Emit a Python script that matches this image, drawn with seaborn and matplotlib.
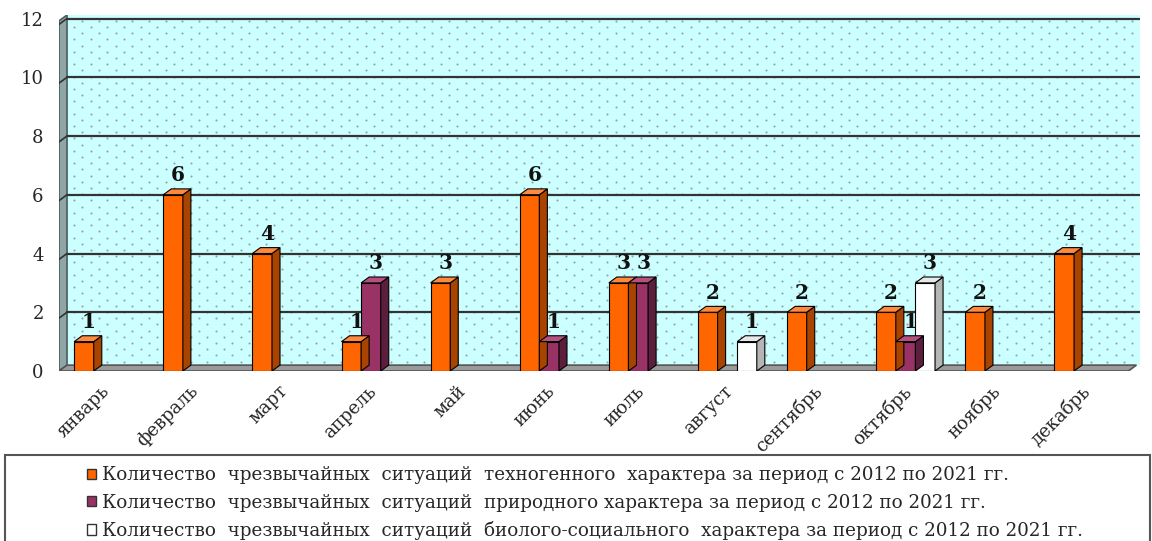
import numpy as np
import pandas as pd
import matplotlib.pyplot as plt
import seaborn as sns
from matplotlib.patches import Polygon, Rectangle, Patch

# ---------- data ----------
months = ['январь', 'февраль', 'март', 'апрель', 'май', 'июнь',
          'июль', 'август', 'сентябрь', 'октябрь', 'ноябрь', 'декабрь']
tech = [1, 6, 4, 1, 3, 6, 3, 2, 2, 2, 2, 4]
nature = [0, 0, 0, 3, 0, 1, 3, 0, 0, 1, 0, 0]
bio = [0, 0, 0, 0, 0, 0, 0, 1, 0, 3, 0, 0]
series = ['Количество  чрезвычайных  ситуаций  техногенного  характера за период с 2012 по 2021 гг.',
          'Количество  чрезвычайных  ситуаций  природного характера за период с 2012 по 2021 гг.',
          'Количество  чрезвычайных  ситуаций  биолого-социального  характера за период с 2012 по 2021 гг.']
yticks = [0, 2, 4, 6, 8, 10, 12]

colors = ['#FF6600', '#993366', '#FFFFFF']
side_colors = ['#A84300', '#5C1E3D', '#B5B5B5']
top_colors = ['#FF8A3D', '#B5507F', '#E8E8E8']

rows = []
for name, vals in zip(series, [tech, nature, bio]):
    for m, v in zip(months, vals):
        if v > 0:
            rows.append({'month': m, 'value': v, 'series': name})
df = pd.DataFrame(rows)

sns.set_style('white')
plt.rcParams['font.family'] = ['DejaVu Serif']

fig = plt.figure(figsize=(11.52, 5.41), dpi=100)
ax = fig.add_axes([59 / 1152, 170 / 541, 1081 / 1152, 356 / 541])

dx, dy = 0.09, 0.2
x_left, x_right, y_top = -0.5, 11.63, 12.12

# walls and floor (3D look)
ax.add_patch(Rectangle((x_left + dx, dy), x_right - x_left - dx, y_top - dy,
                       facecolor='#CCFFFF', lw=0, zorder=0))
# dotted wall pattern
gx = np.arange(x_left + dx + 0.08, x_right, 0.187)
gy = np.arange(dy + 0.12, y_top, 0.211)
px, py = [], []
for k, yy in enumerate(gy):
    off = 0.0935 if k % 2 else 0.0
    xs = gx + off
    xs = xs[xs < x_right - 0.02]
    px.extend(xs)
    py.extend([yy] * len(xs))
ax.scatter(px, py, s=2.2, color='#8fa3a3', linewidths=0, zorder=0.2)

ax.add_patch(Polygon([(x_left, 0), (x_left + dx, dy), (x_left + dx, y_top), (x_left, y_top - dy)],
                     closed=True, facecolor='#8FA6A6', edgecolor='#4d5c5c', lw=1.2, zorder=0.5))
ax.add_patch(Polygon([(x_left, 0), (11.5, 0), (11.5 + dx, dy), (x_left + dx, dy)],
                     closed=True, facecolor='#9a9a9a', edgecolor='#555555', lw=1.2, zorder=0.5))
for t in yticks[1:]:
    ax.plot([x_left + dx, x_right], [t, t], color='#333333', lw=1.6, zorder=1)
    ax.plot([x_left, x_left + dx], [t - dy, t], color='#333333', lw=1.2, zorder=1)

sns.barplot(data=df, x='month', y='value', hue='series', order=months, hue_order=series,
            palette=colors, saturation=1, width=0.66, edgecolor='black', linewidth=0.8,
            legend=False, ax=ax)

# side and top faces + value labels
for i, cont in enumerate(ax.containers):
    for bar in cont:
        h = bar.get_height()
        if not np.isfinite(h) or h <= 0:
            continue
        bar.set_zorder(3)
        x0 = bar.get_x()
        x1 = x0 + bar.get_width()
        ax.add_patch(Polygon([(x1, 0), (x1 + dx, dy), (x1 + dx, h + dy), (x1, h)], closed=True,
                             facecolor=side_colors[i], edgecolor='black', lw=0.8, zorder=3))
        ax.add_patch(Polygon([(x0, h), (x1, h), (x1 + dx, h + dy), (x0 + dx, h + dy)], closed=True,
                             facecolor=top_colors[i], edgecolor='black', lw=0.8, zorder=3))
        ax.text((x0 + x1) / 2 + dx * 0.6, h + 0.33, f'{int(h)}', ha='center', va='bottom',
                fontsize=14.5, fontweight='bold', color='#111111', zorder=4)

ax.set_xlim(x_left, x_right)
ax.set_ylim(0, y_top)
ax.set_yticks(yticks)
ax.set_yticklabels([str(t) for t in yticks], fontsize=13)
# label anchors sit a little left of the category centre, as in the original
ax.set_xticks(np.arange(len(months)) - 0.04)
ax.set_xticklabels(months, rotation=45, ha='right', rotation_mode='anchor', fontsize=13)
ax.set_xticks(np.arange(-0.5, 12, 1), minor=True)
ax.tick_params(axis='x', which='major', length=0, pad=8)
ax.tick_params(axis='x', which='minor', length=5, width=1.2, color='#333333', direction='out')
ax.tick_params(axis='y', length=5, width=1.2, color='#333333', direction='out', pad=6)
ax.set_xlabel('')
ax.set_ylabel('')
for s in ax.spines.values():
    s.set_visible(False)

# legend box
fig.patches.append(Rectangle((5 / 1152, -0.02), 1145 / 1152, (541 - 455) / 541 + 0.02,
                             transform=fig.transFigure, facecolor='white',
                             edgecolor='#555555', lw=1.5))
handles = [Patch(facecolor=c, edgecolor='#333333', lw=1) for c in colors]
fig.legend(handles, series, loc='upper left', bbox_to_anchor=(70 / 1152, (541 - 450) / 541),
           frameon=False, handlelength=0.5, handleheight=0.5, handletextpad=0.35,
           labelspacing=0.5, fontsize=13.2)

fig.savefig('out.png', dpi=100)
